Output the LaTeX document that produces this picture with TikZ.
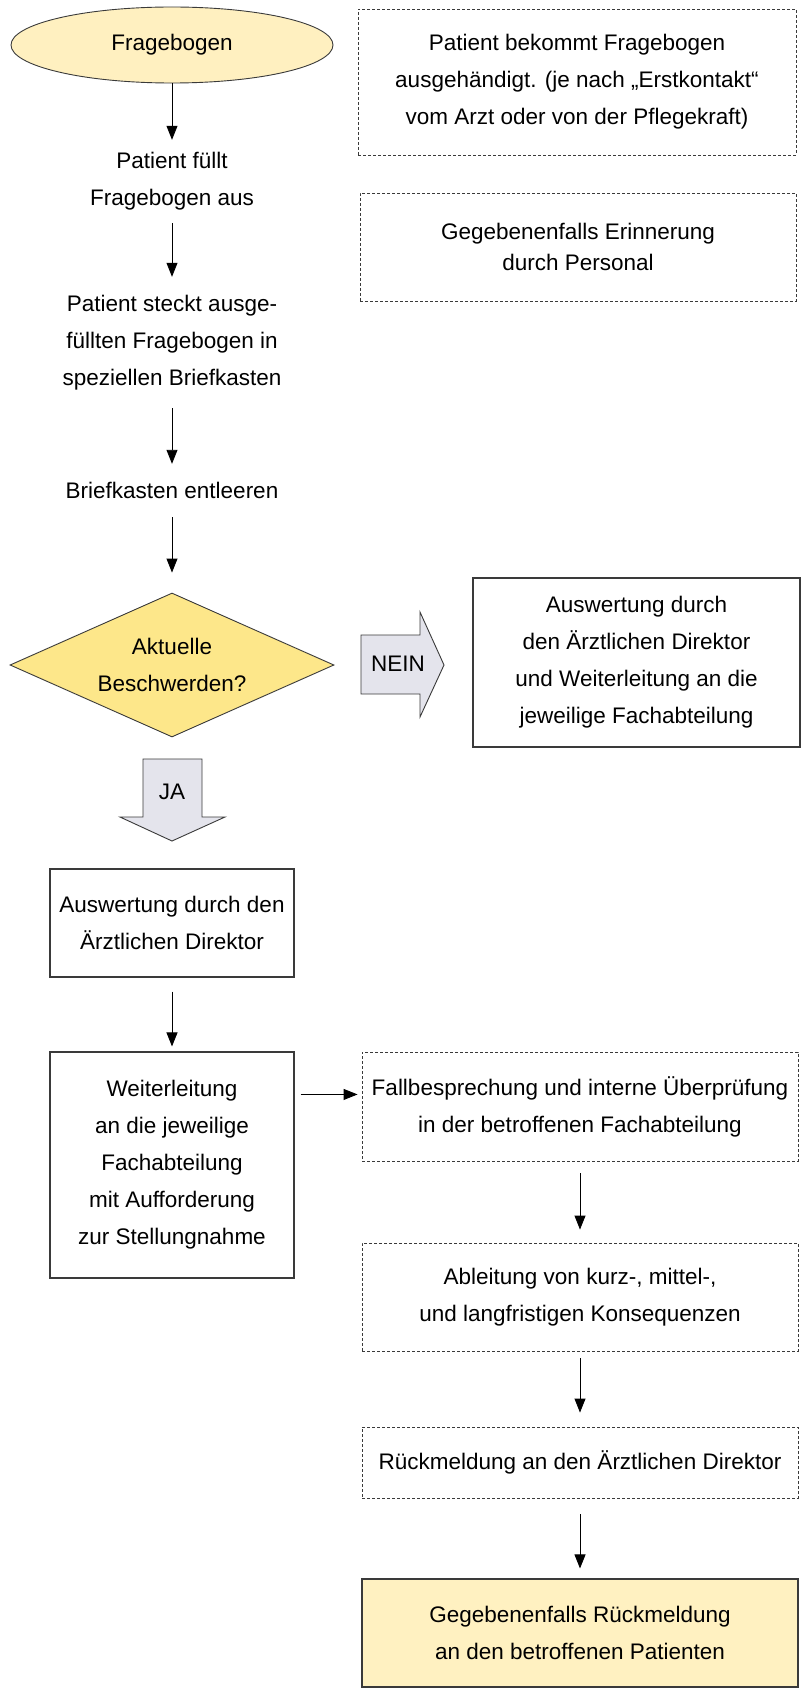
\documentclass[tikz,border=0pt]{standalone}
\usepackage{fontspec}
\setmainfont{Liberation Sans}
\usetikzlibrary{arrows.meta,shapes.geometric}
\definecolor{ellfill}{HTML}{FFF0C0}
\definecolor{diafill}{HTML}{FDE78A}
\definecolor{endfill}{HTML}{FFF1C1}
\definecolor{arrfill}{HTML}{E4E4EC}
\definecolor{edge}{HTML}{3A3A3A}
\begin{document}
\begin{tikzpicture}[x=1pt,y=-1pt,
  font=\fontsize{22.5}{37}\selectfont,
  solidbox/.style={draw=edge, line width=1.1pt, align=center, inner sep=0pt},
  dashbox/.style={draw=edge, line width=0.9pt, dash pattern=on 3pt off 2pt, align=center, inner sep=0pt},
  plain/.style={align=center, inner sep=0pt},
  arr/.style={-{Triangle[length=14pt,width=11pt]}, line width=0.9pt, draw=black},
  blockarrow/.style={draw=edge, fill=arrfill, line width=0.9pt, line join=miter}]
\useasboundingbox (0,0) rectangle (805,1688);

% left column
\node[ellipse, draw=edge, fill=ellfill, line width=0.9pt, minimum width=322pt, minimum height=76pt, inner sep=0pt] (ell) at (172,45) {Fragebogen};
\node[plain, minimum height=83pt] (t1) at (172,181.5) {Patient füllt\\Fragebogen aus};
\node[plain, minimum height=131pt] (t2) at (172,342.5) {Patient steckt ausge-\\füllten Fragebogen in\\speziellen Briefkasten};
\node[plain, minimum height=53pt] (t3) at (172,490.5) {Briefkasten entleeren};
\node[diamond, draw=edge, fill=diafill, line width=0.9pt, aspect=2.25, minimum width=324pt, minimum height=144pt, inner sep=0pt, align=center] (dia) at (172,665) {Aktuelle\\Beschwerden?};

% block arrows
\draw[blockarrow] (361,635) -- (420,635) -- (420,612) -- (444,665) -- (420,717) -- (420,694) -- (361,694) -- cycle;
\node[plain] (nein) at (398,664) {NEIN};
\draw[blockarrow] (143,759) -- (202,759) -- (202,817) -- (225,817) -- (172,841) -- (120,817) -- (143,817) -- cycle;
\node[plain] (ja) at (172,792) {JA};

\node[solidbox, minimum width=244pt, minimum height=108pt] (A) at (172,923) {Auswertung durch den\\Ärztlichen Direktor};
\node[solidbox, minimum width=244pt, minimum height=226pt] (W) at (172,1165) {Weiterleitung\\an die jeweilige\\Fachabteilung\\mit Aufforderung\\zur Stellungnahme};

% right column
\node[dashbox, minimum width=438pt, minimum height=146pt] (b1) at (577,82) {Patient bekommt Fragebogen\\ausgehändigt. (je nach „Erstkontakt“\\vom Arzt oder von der Pflegekraft)};
\node[dashbox, minimum width=436pt, minimum height=108pt, font=\fontsize{22.5}{31}\selectfont] (b2) at (578,247) {Gegebenenfalls Erinnerung\\durch Personal};
\node[solidbox, minimum width=327pt, minimum height=169pt] (nb) at (636.5,662.5) {Auswertung durch\\den Ärztlichen Direktor\\und Weiterleitung an die\\jeweilige Fachabteilung};
\node[dashbox, minimum width=436pt, minimum height=109pt] (F) at (580,1106.5) {Fallbesprechung und interne Überprüfung\\in der betroffenen Fachabteilung};
\node[dashbox, minimum width=436pt, minimum height=108pt] (Ab) at (580,1297) {Ableitung von kurz-, mittel-,\\und langfristigen Konsequenzen};
\node[dashbox, minimum width=436pt, minimum height=71pt] (R) at (580,1462.5) {Rückmeldung an den Ärztlichen Direktor};
\node[solidbox, fill=endfill, minimum width=436pt, minimum height=108pt] (G) at (580,1633) {Gegebenenfalls Rückmeldung\\an den betroffenen Patienten};

% connectors
\draw[arr] (ell.south) -- (t1.north);
\draw[arr] (t1.south) -- (t2.north);
\draw[arr] (t2.south) -- (t3.north);
\draw[arr, shorten >=20pt] (t3.south) -- (dia.north);
\draw[arr, shorten <=14pt, shorten >=5pt] (A.south) -- (W.north);
\coordinate (h1) at ([xshift=6pt,yshift=-43pt]W.north east);
\draw[arr, shorten >=4pt] (h1) -- (h1 -| F.west);
\draw[arr, shorten <=12pt, shorten >=13pt] (F.south) -- (Ab.north);
\draw[arr, shorten <=7pt, shorten >=14pt] (Ab.south) -- (R.north);
\draw[arr, shorten <=16pt, shorten >=10pt] (R.south) -- (G.north);
\end{tikzpicture}
\end{document}
